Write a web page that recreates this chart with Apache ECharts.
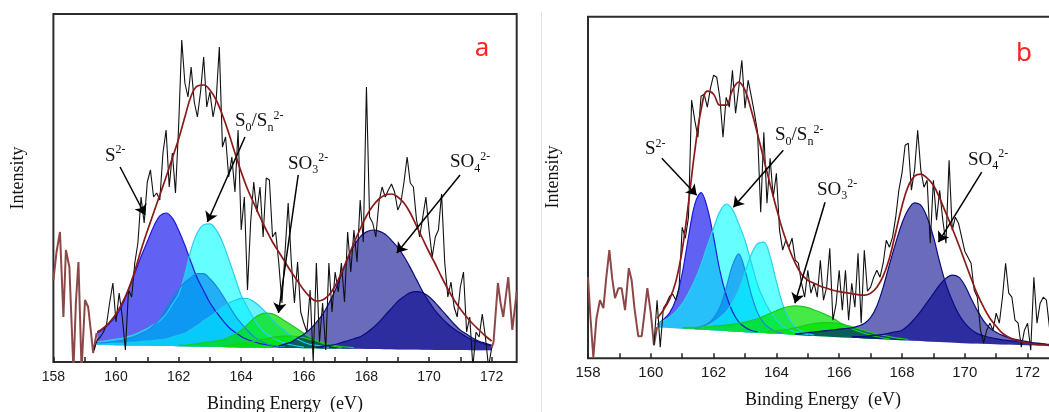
<!DOCTYPE html>
<html>
<head>
<meta charset="utf-8">
<script src="https://cdn.jsdelivr.net/npm/echarts@6/dist/echarts.min.js"></script>
<style>
html,body{margin:0;padding:0;background:#ffffff;}
#chart{width:1049px;height:412px;}
</style>
</head>
<body>
<div id="chart"></div>
<script>
// ================= DATA (binding energy in eV, intensity in arbitrary units) =================
const X_TICK_LABELS = [158, 160, 162, 164, 166, 168, 170, 172];

// ---------- panel a ----------
const A_FIT_START = 159.4;           // fitted-curve sampling start (0.2 eV step)
const A_BASE = [17.0,16.9,16.9,16.8,16.7,16.6,16.6,16.5,16.4,16.3,16.2,16.0,15.9,15.8,15.7,15.6,15.4,15.3,15.2,15.1,15.0,14.8,14.7,14.6,14.5,14.4,14.4,14.3,14.2,14.1,14.0,14.0,13.9,13.8,13.7,13.7,13.6,13.6,13.5,13.4,13.3,13.3,13.2,13.1,13.0,12.9,12.8,12.7,12.6,12.5,12.4,12.4,12.3,12.2,12.1,12.1,12.0,12.0,11.9,11.9,11.8,11.8,11.7,11.7];
const A_ENVELOPE = [30,34,40,48,59,73,91,112,131,149,167,185,204,223,245,266,276,277,272,262,247,229,209,190,173,159,145,132,120,110,100,90,81,72,65,61,62,67,76,89,104,119,133,146,156,163,167,168,165,159,149,136,123,110,98,85,73,62,53,45,38,32,26,21];
const A_RAW_START = 159.3;           // measured spectrum sampling start (0.1 eV step)
const A_RAW = [12,22,25,30,38,60,79,
 40,69,45,12,72,65,99,119,165,139,
 180,192,165,169,162,209,232,175,209,169,
 235,322,279,265,295,260,245,270,305,255,
 270,245,262,315,215,225,185,205,170,232,
 132,165,72,139,180,150,175,125,184,182,
 125,130,99,59,110,159,100,59,100,50,
 39,30,72,0,99,20,59,12,99,50,
 90,70,99,60,130,90,132,100,162,120,
 275,145,139,125,160,175,165,172,178,170,
 152,159,180,205,179,175,142,125,145,165,
 132,105,125,132,168,100,65,80,55,45,
 75,90,30,45,-5,30,25,48,25,-5,
 14];
const A_EDGE_LEFT = [[158.0,82],[158.1,110],[158.21,130],[158.32,45],[158.4,112],[158.51,95],[158.58,40],[158.64,-8],[158.72,60],[158.8,100],[158.9,-8],[159.01,62],[159.11,55],[159.2,30],[159.27,9],[159.38,29]];
const A_EDGE_RIGHT = [[172.0,14],[172.06,20],[172.2,79],[172.28,60],[172.37,45],[172.53,85],[172.66,32],[172.8,70]];

const A_S2_START = 159.4;
const A_S2 = [12,16,22,29,40,56,72,89,104,119,130,133,128,116,101,84,68,56,44,35,27,20,15,11,8,6,4,3,2,1];
const A_SN1_START = 159.4;
const A_SN1 = [3,4,5,6,7,9,11,14,17,21,25,32,42,52,72,97,114,122,123,117,105,88,70,52,40,29,20,14,10,7,5,3,2,1];
const A_SN2_START = 159.4;
const A_SN2 = [2,2.5,3,4,5,7,9,12,15,20,27,38,48,57,64,69,73,73,68,61,52,42,32,24,17,11,7,4,2.5,1.5,1];
const A_SN3_START = 159.4;
const A_SN3 = [1,1,1.5,2,2,3,3,4,4.5,5,6,7,9,11,13,17,21,26,30,35,40,44,47,49,49,46,41,35,28,22,17,12,9,6,4,3,2,1];
const A_SO3a_START = 162.0;
const A_SO3a = [1,1,2,3,4,5,6,7,10,13,17,23,29,33,34.5,34,31,27,23,19,15,11,8,5,3,2,1];
const A_SO3b_START = 163.4;
const A_SO3b = [1,2,3,4,5,6,8,9,10.5,11.5,12,12,11.5,10.5,9,7.5,6,4.5,3,2,1.5,1];
const A_SO4a_START = 165.2;
const A_SO4a = [2,4,6,10,14,19,26,34,45,58,74,90,103,112,117,119,118,115,109,102,93,82,70,58,48,39,32,26,21,17,13,10,8,6,5];
const A_SO4b_START = 166.4;
const A_SO4b = [1,2,3,4,6,8,10,12,16,21,27,34,41,48,53,57,58,57,53,47,40,33,26,20,16,12,9,7,5];

// ---------- panel b ----------
const B_FIT_START = 160.2;
const B_BASE = [31.0,30.6,30.3,29.9,29.5,29.2,28.9,28.6,28.3,28.0,27.6,27.2,26.8,26.4,26.0,25.7,25.4,25.1,24.8,24.5,24.1,23.7,23.3,22.9,22.5,22.2,21.9,21.6,21.3,21.0,20.7,20.4,20.1,19.8,19.5,19.2,18.9,18.6,18.3,18.0,17.7,17.4,17.1,16.8,16.5,16.2,15.9,15.6,15.3,15.0,14.8,14.6,14.4,14.2,14.0,13.8,13.6,13.4,13.2,13.0,12.9,12.8,12.6,12.5];
const B_ENVELOPE = [40,48,59,77,108,155,207,248,267,264,253,253,268,276,268,248,224,199,174,150,128,110,95,84,78,75,72,70,68,66.5,65.5,64.5,63.5,63,65,71,82,100,126,152,172,182,184,180,173,160,145,130,114,97,80,64,51,40,32,25,21,18,16.5,15,14,13.5,13,12.5];
const B_RAW_START = 160.1;
const B_RAW = [13,58,11,50,55,62,64,58,70,
 131,120,141,258,238,221,262,264,251,270,
 283,281,260,221,261,251,288,245,270,298,
 250,278,262,245,226,146,226,155,200,161,
 185,128,108,118,111,120,98,95,75,61,
 88,65,75,61,98,58,71,110,38,54,
 88,48,88,38,75,51,105,35,108,67,
 71,81,88,81,95,118,111,121,141,168,
 185,213,215,168,188,228,188,171,178,115,
 178,138,168,138,115,198,128,141,135,121,
 107,101,95,68,61,28,15,28,35,28,
 45,35,61,95,65,61,38,35,11,28,
 35,8,81,35,55,61,58,30,60];
const B_EDGE_LEFT = [[158.0,81],[158.08,40],[158.17,1],[158.27,40],[158.38,58],[158.49,50],[158.58,80],[158.68,108],[158.77,80],[158.86,60],[158.97,70],[159.07,70],[159.18,48],[159.3,90],[159.39,78],[159.48,50],[159.6,22],[159.71,22],[159.8,45],[159.89,70],[160.0,45],[160.1,13],[160.2,31]];

const B_S2_START = 160.2;
const B_S2 = [3,8,15,29,55,92,125,137,122,93,60,36,20,10,5,2,1];
const B_SN1_START = 160.2;
const B_SN1 = [3,7,11,17,25,36,49,65,84,102,119,127,122,108,92,70,48,33,22,14,8,5,3,2,1];
const B_SN2_START = 161.4;
const B_SN2 = [1,3,6,12,23,43,66,78,62,38,20,10,5,2,1];
const B_SN3_START = 161.6;
const B_SN3 = [2,4,8,13,19,29,42,60,78,89,91,77,52,30,16,8,4,2,1];
const B_SO3a_START = 161.0;
const B_SO3a = [1,1.5,2,2.5,3,4,5,6,7,8.5,10,12,14,17,20,23,26,28,29,29,28,26,24,21.5,19,15,12,9,7,5,3.5,2.5,1.5,1];
const B_SO3b_START = 163.6;
const B_SO3b = [1,2,3,4,5.5,7,9,11,12.5,13.5,14,14,13.5,12.5,11,9.5,8,6.5,5,4,3,2,1.5,1];
const B_SO4a_START = 164.6;
const B_SO4a = [1,2,3,4,5,6,7,8,9,10,12,15,21,33,52,75,97,117,131,138,136,124,105,80,58,42,29,20,14,10,8,6.5,5.5,4.5,4,3.5,3,2.5,2,1.5,1];
const B_SO4b_START = 166.4;
const B_SO4b = [1,1.5,2,3,4,5,6.5,8,10,15,22,30,39,48,57,64,67.5,66,58,45,33,23,16,12,9,7,5.5,4.5,3.5,2.5,2,1.5,1];

// annotation arrows (tail -> head, in axis units)
const A_ARROWS = [[[160.13,195],[160.93,147]],[[164.12,225],[162.92,140]],[[165.82,187],[165.19,49]],[[170.99,187],[168.97,109]]];
const B_ARROWS = [[[160.35,200],[161.46,163]],[[164.22,208],[162.63,151]],[[165.55,156],[164.59,55]],[[170.54,186],[169.16,116]]];

// ================= STYLES / BUILD =================
const FIT_STEP = 0.2, RAW_STEP = 0.1;
const C_BLUE  = {fill:'rgba(0,0,235,0.62)',   line:'#1a1ad8'};
const C_LCYAN = {fill:'rgba(0,255,255,0.6)',  line:'#2ad0ec'};
const C_MBLUE = {fill:'rgba(0,130,240,0.65)', line:'#1c86dc'};
const C_CYAN  = {fill:'rgba(0,235,255,0.6)',  line:'#22c8ea'};
const C_GREEN = {fill:'rgba(0,225,0,0.72)',   line:'#1ec81e'};
const C_NAVY  = {fill:'rgba(0,0,140,0.58)',   line:'#0c0c80'};

function gridXs(start, step, n) {
  const xs = [];
  for (let i = 0; i < n; i++) xs.push(+(start + i * step).toFixed(2));
  return xs;
}
function zip(xs, ys) { return ys.map((y, i) => [xs[i], y]); }

// items are stored as [intensity, energy] so that the intensity is the stacked dimension
function compSeries(gi, key, xs, base, start, vals, col) {
  const off = Math.round((start - xs[0]) / FIT_STEP);
  const baseData = xs.map((x, i) => [base[i], x]);
  const compData = xs.map((x, i) => {
    const k = i - off;
    return [(k >= 0 && k < vals.length) ? vals[k] : '-', x];
  });
  const stack = 'g' + gi + key;
  const common = {type:'line', xAxisIndex:gi, yAxisIndex:gi, stack, symbol:'none', silent:true,
    encode:{x:1, y:0}, dimensions:['v','e'], emphasis:{disabled:true}};
  return [
    Object.assign({}, common, {data:baseData, lineStyle:{opacity:0, width:0}}),
    Object.assign({}, common, {data:compData, smooth:0.35,
      lineStyle:{color:col.line, width:1.2}, areaStyle:{color:col.fill, opacity:1}})
  ];
}

function panelSeries(gi, fitStart, base, env, rawStart, raw, edges, comps, arrows) {
  const xs = gridXs(fitStart, FIT_STEP, base.length);
  const rx = gridXs(rawStart, RAW_STEP, raw.length);
  let s = [];
  comps.forEach((c, i) => { s = s.concat(compSeries(gi, 'c' + i, xs, base, c[0], c[1], c[2])); });
  edges.forEach(e => {
    s.push({type:'line', xAxisIndex:gi, yAxisIndex:gi, data:e, symbol:'none', silent:true,
      lineStyle:{color:'#8c4848', width:2}, emphasis:{disabled:true}});
  });
  s.push({type:'line', xAxisIndex:gi, yAxisIndex:gi, data:zip(rx, raw), symbol:'none', silent:true,
    lineStyle:{color:'#111111', width:1.1}, emphasis:{disabled:true}});
  s.push({type:'line', xAxisIndex:gi, yAxisIndex:gi, data:zip(xs, env), symbol:'none', smooth:0.4, silent:true,
    lineStyle:{color:'#8b1a1a', width:1.7}, emphasis:{disabled:true},
    markLine:{silent:true, symbol:['none','arrow'], symbolSize:10, animation:false,
      label:{show:false}, lineStyle:{color:'#000', width:1.5, type:'solid'}, emphasis:{disabled:true},
      data: arrows.map(a => [{coord:a[0]}, {coord:a[1]}])}});
  return s;
}

const seriesA = panelSeries(0, A_FIT_START, A_BASE, A_ENVELOPE, A_RAW_START, A_RAW, [A_EDGE_LEFT, A_EDGE_RIGHT], [
  [A_S2_START, A_S2, C_BLUE], [A_SN1_START, A_SN1, C_LCYAN], [A_SN2_START, A_SN2, C_MBLUE], [A_SN3_START, A_SN3, C_CYAN],
  [A_SO3a_START, A_SO3a, C_GREEN], [A_SO3b_START, A_SO3b, C_GREEN], [A_SO4a_START, A_SO4a, C_NAVY], [A_SO4b_START, A_SO4b, C_NAVY]
], A_ARROWS);
const seriesB = panelSeries(1, B_FIT_START, B_BASE, B_ENVELOPE, B_RAW_START, B_RAW, [B_EDGE_LEFT], [
  [B_S2_START, B_S2, C_BLUE], [B_SN1_START, B_SN1, C_LCYAN], [B_SN2_START, B_SN2, C_MBLUE], [B_SN3_START, B_SN3, C_LCYAN],
  [B_SO3a_START, B_SO3a, C_GREEN], [B_SO3b_START, B_SO3b, C_GREEN], [B_SO4a_START, B_SO4a, C_NAVY], [B_SO4b_START, B_SO4b, C_NAVY]
], B_ARROWS);

function xAxisCfg(gi, fontSize, margin) {
  return {type:'value', gridIndex:gi, min:158, max:172.8, interval:1,
    axisLine:{show:false}, splitLine:{show:false},
    axisTick:{show:true, inside:true, length:5, lineStyle:{color:'#222', width:1.5}},
    axisLabel:{show:true, margin, fontFamily:'Liberation Sans, Arial, sans-serif', fontSize, color:'#1a1a1a',
      showMaxLabel:false,
      formatter: v => X_TICK_LABELS.indexOf(Math.round(v)) >= 0 && Math.abs(v - Math.round(v)) < 1e-6 ? String(Math.round(v)) : ''}};
}
function yAxisCfg(gi, max) {
  return {type:'value', gridIndex:gi, min:0, max, axisLine:{show:false}, axisTick:{show:false},
    axisLabel:{show:false}, splitLine:{show:false}};
}

const SERIF = 'Liberation Serif, Times New Roman, serif';
const RICH = {
  n:   {fontFamily:SERIF, fontSize:19, lineHeight:24, verticalAlign:'middle', fill:'#111'},
  sub: {fontFamily:SERIF, fontSize:12, lineHeight:14, verticalAlign:'bottom', fill:'#111'},
  sup: {fontFamily:SERIF, fontSize:12, lineHeight:14, verticalAlign:'top', fill:'#111'}
};
function label(x, y, text) {
  return {type:'text', x, y, silent:true, z:100,
    style:{text, rich:RICH, fill:'#111', font:'19px ' + SERIF, align:'left', verticalAlign:'middle',
      textAlign:'left', textVerticalAlign:'middle'}};
}
function plain(x, y, text, font, fill, rotation) {
  return {type:'text', x, y, rotation: rotation || 0, silent:true, z:100,
    style:{text, font, fill, align:'center', verticalAlign:'middle', textAlign:'center', textVerticalAlign:'middle'}};
}
const L_S2 = '{n|S}{sup|2-}';
const L_SN = '{n|S}{sub|0}{n|/S}{sub|n}{sup|2-}';
const L_SO3 = '{n|SO}{sub|3}{sup|2-}';
const L_SO4 = '{n|SO}{sub|4}{sup|2-}';

const option = {
  animation:false,
  backgroundColor:'#ffffff',
  grid:[
    {left:53.4, top:14, width:463.3, height:348, show:true, borderColor:'#2b2b2b', borderWidth:2, containLabel:false, outerBoundsMode:'none'},
    {left:588, top:16.7, width:464.7, height:341.5, show:true, borderColor:'#2b2b2b', borderWidth:2, containLabel:false, outerBoundsMode:'none'}
  ],
  xAxis:[xAxisCfg(0, 14, 8), xAxisCfg(1, 15, 7)],
  yAxis:[yAxisCfg(0, 348), yAxisCfg(1, 341.5)],
  series: seriesA.concat(seriesB),
  graphic:{elements:[
    {type:'line', shape:{x1:541.5, y1:12, x2:541.5, y2:412}, style:{stroke:'#e2e2e2', lineWidth:1}, silent:true},
    label(105, 156, L_S2), label(235, 121.5, L_SN), label(288, 164, L_SO3), label(450, 162.5, L_SO4),
    label(645, 149.5, L_S2), label(775, 135.5, L_SN), label(817, 190, L_SO3), label(968, 160, L_SO4),
    plain(482, 49, 'a', '26px Noto Sans, Arial, sans-serif', '#ff2323'),
    plain(1024, 54, 'b', '26px Noto Sans, Arial, sans-serif', '#ff2323'),
    plain(18, 178, 'Intensity', '18px ' + SERIF, '#111', Math.PI / 2),
    plain(553, 177, 'Intensity', '18px ' + SERIF, '#111', Math.PI / 2),
    plain(285, 404, 'Binding Energy  (eV)', '18px ' + SERIF, '#111'),
    plain(823, 400, 'Binding Energy  (eV)', '18px ' + SERIF, '#111')
  ]}
};

const chart = echarts.init(document.getElementById('chart'), null, {renderer:'canvas', width:1049, height:412});
chart.setOption(option);
</script>
</body>
</html>
